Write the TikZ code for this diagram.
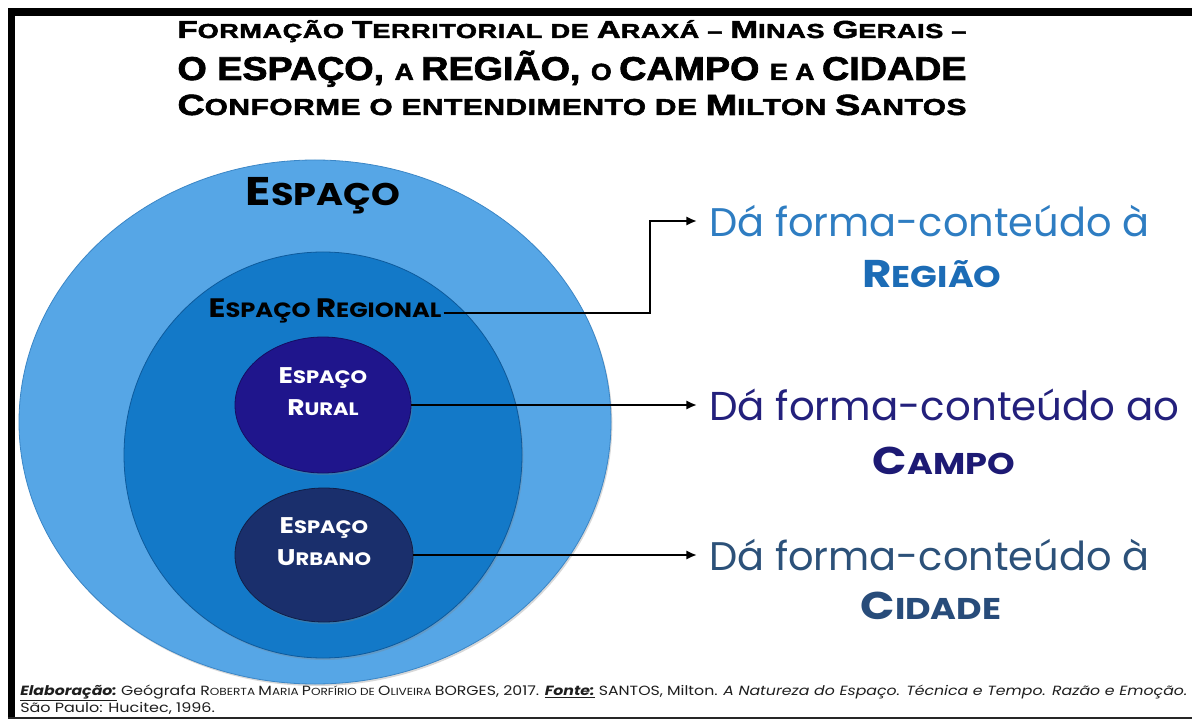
\documentclass[tikz,border=0pt]{standalone}
\usepackage{fontspec}
\usepackage{graphicx}
\setmainfont{Poppins}
\newfontfamily\titlefont[LetterSpace=2,FakeBold=2]{Liberation Sans}
\newfontfamily\titlefontB[FakeBold=2]{Liberation Sans}
\usetikzlibrary{shapes.geometric,arrows.meta,shadows}
\newcommand\fs[1]{\fontsize{#1}{#1}\selectfont}
\newcommand\wide[1]{\scalebox{1.17}[1]{#1}}
\definecolor{outerC}{HTML}{56A6E6}
\definecolor{outerD}{HTML}{3B86C6}
\definecolor{innerC}{HTML}{1379C8}
\definecolor{innerD}{HTML}{0D5A9C}
\definecolor{ruralC}{HTML}{1F158C}
\definecolor{ruralD}{HTML}{140D62}
\definecolor{urbC}{HTML}{1A2F6C}
\definecolor{urbD}{HTML}{101E48}
\definecolor{regT}{HTML}{2E7DC2}
\definecolor{regB}{HTML}{1C6CB6}
\definecolor{campT}{HTML}{23207C}
\definecolor{campB}{HTML}{1D1A74}
\definecolor{cidT}{HTML}{2C5179}
\definecolor{cidB}{HTML}{284C7A}
\definecolor{footC}{HTML}{1E1E1E}
\begin{document}
\begin{tikzpicture}[x=0.75pt,y=-0.75pt,
  blob/.style={ellipse, inner sep=0pt, line width=0.6pt,
     drop shadow={opacity=0.3, shadow xshift=1pt, shadow yshift=-1.5pt}},
  lbl/.style={inner sep=0pt, font=\bfseries},
  wlbl/.style={inner sep=0pt, font=\bfseries, text=white},
  rtext/.style={anchor=west, inner xsep=9pt, inner ysep=0pt},
  big/.style={inner sep=0pt, font=\bfseries, anchor=base},
  conn/.style={line width=1.6pt, black},
  arr/.style={conn, -{Latex[length=8pt,width=7pt]}}
]
\useasboundingbox (0,0) rectangle (1192,720);
\fill[white] (0,0) rectangle (1192,720);
% frame
\fill[black] (8,8) rectangle (1192,16);
\fill[black] (8,8) rectangle (15,718);
\fill[black!85] (8,716.5) rectangle (1192,718.5);

% title
\node[inner sep=0pt, anchor=base] (title1) at (572,38)
  {\resizebox{591.75pt}{13.5pt}{\titlefont\bfseries\fs{14pt}F\fs{11.5pt}ORMAÇÃO \fs{14pt}T\fs{11.5pt}ERRITORIAL DE \fs{14pt}A\fs{11.5pt}RAXÁ – \fs{14pt}M\fs{11.5pt}INAS \fs{14pt}G\fs{11.5pt}ERAIS –}};
\node[inner sep=0pt, anchor=base] (title2) at (572,80)
  {\resizebox{591.75pt}{22pt}{\titlefontB\bfseries\fs{22.5pt}O ESPAÇO, \fs{16pt}A \fs{22.5pt}REGIÃO, \fs{16pt}O \fs{22.5pt}CAMPO \fs{16pt}E A \fs{22.5pt}CIDADE}};
\node[inner sep=0pt, anchor=base] (title3) at (572,115)
  {\resizebox{591.75pt}{15.3pt}{\titlefont\bfseries\fs{21.5pt}C\fs{17pt}ONFORME O ENTENDIMENTO DE \fs{21.5pt}M\fs{17pt}ILTON \fs{21.5pt}S\fs{17pt}ANTOS}};

% ellipses
\node[blob, fill=outerC, draw=outerD, minimum width=444pt, minimum height=393pt] (espaco) at (315,422) {};
\node[blob, fill=innerC, draw=innerD, minimum width=298.5pt, minimum height=304.5pt] (regional) at (323,455) {};
\node[blob, fill=ruralC, draw=ruralD, minimum width=132pt, minimum height=102pt] (rural) at (323,405) {};
\node[blob, fill=urbC, draw=urbD, minimum width=133.5pt, minimum height=100.5pt] (urbano) at (324,555) {};

% labels
\node[lbl, anchor=base] (esplab) at (323,206) {\wide{\fs{30pt}E\fs{23.5pt}SPAÇO}};
\node[lbl, anchor=base] (reglab) at (325,317) {\wide{\fs{20pt}E\fs{15.5pt}SPAÇO \fs{20pt}R\fs{15.5pt}EGIONAL}};
\node[wlbl, anchor=base] (rur1) at (323,383) {\wide{\fs{17pt}E\fs{13.5pt}SPAÇO}};
\node[wlbl, anchor=base] (rur2) at (323,415) {\wide{\fs{17pt}R\fs{13.5pt}URAL}};
\node[wlbl, anchor=base] (urb1) at (324,533) {\wide{\fs{17pt}E\fs{13.5pt}SPAÇO}};
\node[wlbl, anchor=base] (urb2) at (324,565) {\wide{\fs{17pt}U\fs{13.5pt}RBANO}};

% right texts
\node[rtext, text=regT] (t1) at (697,221) {\resizebox{330pt}{!}{Dá forma-conteúdo à}};
\node[big, text=regB] (b1) at (932,288) {\wide{\fs{29pt}R\fs{22.5pt}EGIÃO}};
\node[rtext, text=campT] (t2) at (697,405) {\resizebox{352.5pt}{!}{Dá forma-conteúdo ao}};
\node[big, text=campB] (b2) at (944,474) {\wide{\fs{29pt}C\fs{22.5pt}AMPO}};
\node[rtext, text=cidT] (t3) at (697,555) {\resizebox{330pt}{!}{Dá forma-conteúdo à}};
\node[big, text=cidB] (b3) at (931,619) {\wide{\fs{29pt}C\fs{22.5pt}IDADE}};

% connectors
\coordinate (rj) at (650,266);
\draw[arr] ([xshift=1.5pt,yshift=3pt]reglab.base east) -| (rj) |- (t1.west);
\draw[arr] (rural.east) -- (t2.west);
\draw[arr] (urbano.east) -- (t3.west);

% footer
\node[inner sep=0pt, anchor=base west, text=footC] (foot1) at (20,695)
  {\resizebox{875.25pt}{\height}{\fs{10pt}\underline{\textbf{\textit{Elaboração:}}} Geógrafa R\fs{7.7pt}OBERTA \fs{10pt}M\fs{7.7pt}ARIA \fs{10pt}P\fs{7.7pt}ORFÍRIO DE \fs{10pt}O\fs{7.7pt}LIVEIRA \fs{10pt}BORGES, 2017. \underline{\textbf{\textit{Fonte:}}} SANTOS, Milton. \textit{A Natureza do Espaço. Técnica e Tempo. Razão e Emoção.}}};
\node[inner sep=0pt, anchor=base west, text=footC] (foot2) at (20,712)
  {\resizebox{146pt}{\height}{\fs{10pt}São Paulo: Hucitec, 1996.}};
\end{tikzpicture}
\end{document}
